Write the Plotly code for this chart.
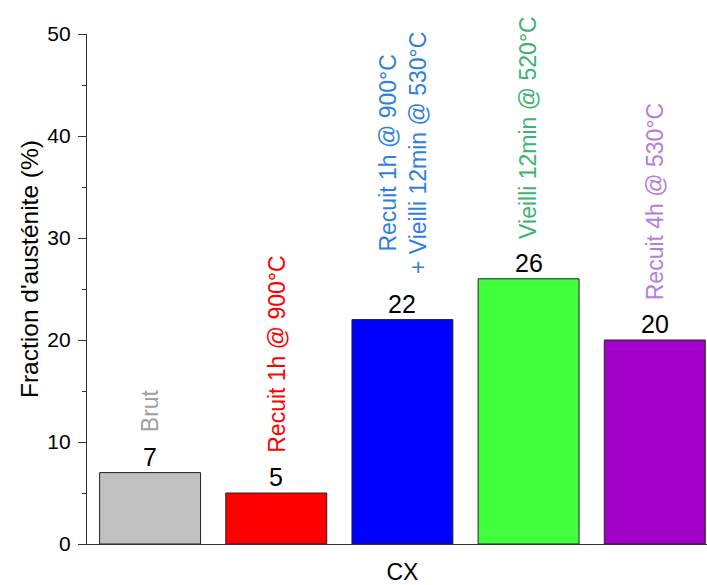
import plotly.graph_objects as go

categories = ["Brut", "Recuit 1h @ 900°C", "Recuit 1h @ 900°C<br>+ Vieilli 12min @ 530°C",
              "Vieilli 12min @ 520°C", "Recuit 4h @ 530°C"]
values = [7, 5, 22, 26, 20]
bar_colors = ["#C0C0C0", "#FF0000", "#0000FF", "#3FFF3F", "#A000C8"]
label_colors = ["#A0A0A0", "#FF0000", "#2F7FE0", "#3CB371", "#B57EDC"]
group_label = "CX"
y_ticks = [0, 10, 20, 30, 40, 50]
y_title = "Fraction d'austénite (%)"

xs = list(range(len(values)))

fig = go.Figure()
fig.add_trace(go.Bar(
    x=xs, y=values, width=0.8,
    marker=dict(color=bar_colors, line=dict(color="#222222", width=1)),
    showlegend=False, hoverinfo="skip",
))

annotations = []
for x, v, lab, col in zip(xs, values, categories, label_colors):
    annotations.append(dict(
        x=x, y=v, xref="x", yref="y", text=str(v), showarrow=False,
        yanchor="bottom", yshift=0, font=dict(size=25, color="black", family="Arial"),
    ))
    multi = "<br>" in lab
    annotations.append(dict(
        x=x, y=v, xref="x", yref="y", text=lab, showarrow=False,
        textangle=-90, yanchor="bottom", xanchor="center",
        yshift=44 if multi else 38,
        font=dict(size=23, color=col, family="Arial"),
    ))
annotations.append(dict(
    x=(29 - 87) / 620, y=(544 - 269) / 510, xref="paper", yref="paper",
    text=y_title, showarrow=False, textangle=-90,
    xanchor="center", yanchor="middle",
    font=dict(size=24.5, color="black", family="Arial"),
))

fig.update_layout(
    width=707, height=585,
    margin=dict(l=87, r=0, t=34, b=41),
    paper_bgcolor="white", plot_bgcolor="white",
    font=dict(family="Arial", size=21, color="black"),
    annotations=annotations,
    xaxis=dict(
        range=[-0.5, 4.414], tickvals=[2], ticktext=[group_label],
        showline=True, linecolor="#333333", linewidth=1.2, ticks="",
        showgrid=False, zeroline=False, tickfont=dict(size=23),
        ticklabelstandoff=7, automargin=False,
    ),
    yaxis=dict(
        range=[0, 50], tickvals=y_ticks,
        showline=True, linecolor="#333333", linewidth=1.2,
        ticks="outside", ticklen=8, tickcolor="#333333",
        minor=dict(ticks="outside", ticklen=4, dtick=5, tickcolor="#333333"),
        showgrid=False, zeroline=False, tickfont=dict(size=21),
        ticklabelstandoff=3, automargin=False,
    ),
)

fig.write_html(
    "out.html",
    config={"displayModeBar": False},
    post_script="document.body.style.margin='0';document.body.style.overflow='hidden';",
)
